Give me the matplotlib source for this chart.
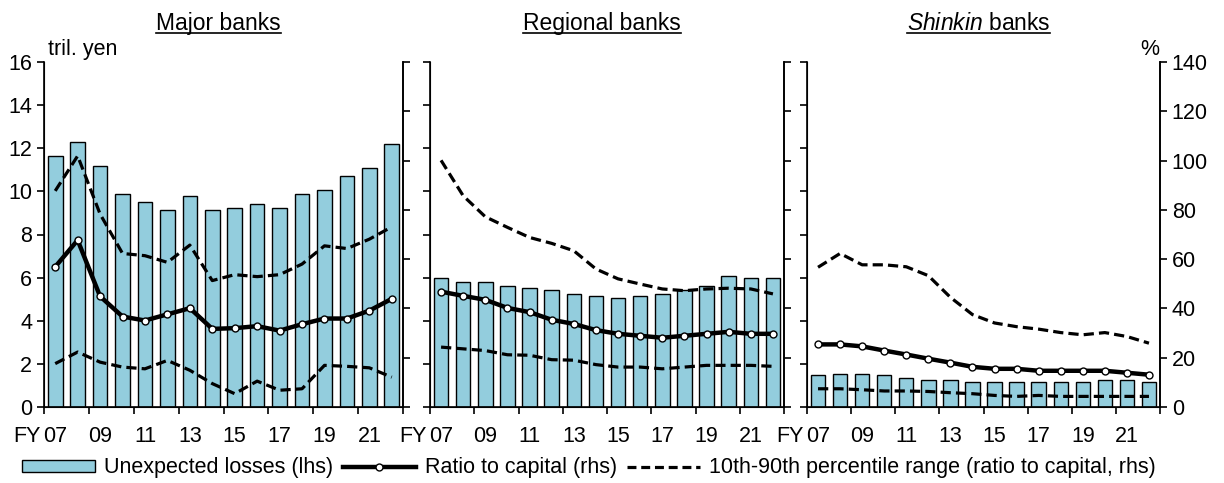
import matplotlib.pyplot as plt
import numpy as np
from matplotlib.lines import Line2D
from matplotlib.patches import Patch

plt.rcParams["font.family"] = ["Liberation Sans", "DejaVu Sans"]
plt.rcParams["mathtext.fontset"] = "custom"
plt.rcParams["mathtext.rm"] = "Liberation Sans"
plt.rcParams["mathtext.it"] = "Liberation Sans:italic"

years = np.arange(7, 23)
year_ticks = [7, 9, 11, 13, 15, 17, 19, 21]
year_labels = ["07", "09", "11", "13", "15", "17", "19", "21"]
panel_titles = ["Major banks", "Regional banks", r"$\it{Shinkin}$ banks"]

# unexpected losses (tril. yen, lhs)
major_losses = [11.63, 12.3, 11.17, 9.86, 9.49, 9.12, 9.78, 9.12, 9.23, 9.41, 9.23, 9.86, 10.05, 10.71, 11.08, 12.19]
regional_losses = [5.98, 5.81, 5.81, 5.63, 5.52, 5.44, 5.24, 5.15, 5.07, 5.15, 5.24, 5.44, 5.63, 6.08, 5.98, 5.98]
shinkin_losses = [1.47, 1.54, 1.54, 1.47, 1.34, 1.27, 1.27, 1.17, 1.17, 1.17, 1.17, 1.17, 1.17, 1.27, 1.27, 1.17]

# ratio to capital (%, rhs)
major_ratio = [56.9, 67.7, 44.9, 36.7, 35.1, 37.6, 40.1, 31.7, 32.0, 32.8, 31.0, 33.6, 35.9, 35.9, 39.1, 43.9]
regional_ratio = [46.8, 45.1, 43.5, 40.2, 38.5, 35.4, 33.7, 31.2, 29.7, 28.9, 28.1, 28.9, 29.7, 30.5, 29.7, 29.7]
shinkin_ratio = [25.4, 25.4, 24.6, 22.9, 21.3, 19.6, 18.0, 16.3, 15.5, 15.5, 14.7, 14.7, 14.7, 14.7, 13.9, 13.1]

# 10th / 90th percentile of ratio to capital (%, rhs)
major_p90 = [87.7, 101.9, 78.3, 62.3, 61.4, 58.7, 65.7, 51.3, 53.7, 52.9, 53.7, 58.0, 65.4, 64.3, 68.1, 73.1]
major_p10 = [17.6, 22.3, 18.2, 16.2, 15.5, 18.9, 14.9, 9.5, 5.4, 10.5, 6.8, 7.4, 16.9, 16.5, 15.9, 12.1]
regional_p90 = [100.1, 85.7, 77.2, 72.9, 68.8, 66.4, 63.4, 56.0, 52.0, 49.9, 47.9, 47.2, 47.9, 48.2, 47.9, 45.9]
regional_p10 = [24.3, 23.6, 22.9, 21.2, 21.0, 19.2, 19.0, 17.2, 16.2, 16.2, 15.5, 16.2, 16.9, 16.9, 16.9, 16.5]
shinkin_p90 = [56.7, 62.3, 57.7, 57.7, 56.9, 53.3, 44.5, 37.5, 34.1, 32.6, 31.6, 30.2, 29.3, 30.2, 28.6, 25.9]
shinkin_p10 = [7.4, 7.4, 7.0, 6.5, 6.5, 6.3, 5.8, 5.4, 4.7, 4.3, 4.7, 4.3, 4.3, 4.3, 4.3, 4.3]

losses = [major_losses, regional_losses, shinkin_losses]
ratios = [major_ratio, regional_ratio, shinkin_ratio]
p90s = [major_p90, regional_p90, shinkin_p90]
p10s = [major_p10, regional_p10, shinkin_p10]

bar_color = "#93CDDD"
fs = 15.5

fig = plt.figure(figsize=(12.24, 4.83), dpi=100)
W, H = 1224, 483
lefts = [44, 430, 807]
widths = [359, 354, 353]
bottom_px, top_px = 407, 62
ax_h = bottom_px - top_px

titles = []
for i in range(3):
    ax = fig.add_axes([lefts[i] / W, (H - bottom_px) / H, widths[i] / W, ax_h / H])
    ax.bar(years, losses[i], width=0.65, color=bar_color, edgecolor="black", linewidth=1.0, zorder=2)
    ax.set_xlim(6.5, 22.5)
    ax.set_ylim(0, 16)
    ax.set_yticks(np.arange(0, 17, 2))
    ax.set_xticks(np.arange(6.5, 23, 2))
    ax.set_xticklabels([])
    ax.set_xticks(year_ticks, minor=True)
    ax.set_xticklabels(year_labels, minor=True, fontsize=fs)
    ax.tick_params(axis="x", which="minor", length=0, pad=14)
    ax.tick_params(axis="x", which="major", length=5, width=1.2, direction="out")
    ax.tick_params(axis="y", length=5, width=1.2, direction="out", labelsize=fs)
    if i > 0:
        ax.set_yticklabels([])
    ax.spines["top"].set_visible(False)
    for s in ["left", "bottom", "right"]:
        ax.spines[s].set_linewidth(1.2)

    ax2 = ax.twinx()
    ax2.set_ylim(0, 140)
    ax2.set_yticks(np.arange(0, 141, 20))
    ax2.tick_params(axis="y", length=5, width=1.2, direction="out", labelsize=fs)
    if i < 2:
        ax2.set_yticklabels([])
    ax2.spines["top"].set_visible(False)
    ax2.spines["right"].set_linewidth(1.2)
    ax2.plot(years, p90s[i], color="black", lw=2.3, dashes=(3.2, 1.6))
    ax2.plot(years, p10s[i], color="black", lw=2.3, dashes=(3.2, 1.6))
    ax2.plot(years, ratios[i], color="black", lw=3.2, marker="o", markersize=5,
             markerfacecolor="white", markeredgecolor="black", markeredgewidth=1.0)

    ax.text(6.35, -19.4 / ax_h, "FY", transform=ax.get_xaxis_transform(),
            ha="right", va="top", fontsize=fs)

    cx = (lefts[i] + widths[i] / 2 - 5) / W
    t = fig.text(cx, 1 - 30 / H, panel_titles[i], ha="center", va="baseline", fontsize=16.5)
    titles.append(t)

    if i == 0:
        ax.text(0.01, 1.005, "tril. yen", transform=ax.transAxes, ha="left", va="bottom", fontsize=fs)
    if i == 2:
        ax2.text(0.998, 1.005, "%", transform=ax2.transAxes, ha="right", va="bottom", fontsize=fs)

# underline the panel titles
fig.canvas.draw()
renderer = fig.canvas.get_renderer()
for t in titles:
    bb = t.get_window_extent(renderer)
    y = (1 - 33 / H)
    fig.add_artist(Line2D([bb.x0 / W, bb.x1 / W], [y, y], color="black", lw=1.2))

handles = [
    Patch(facecolor=bar_color, edgecolor="black", linewidth=1.0),
    Line2D([0, 0.5, 1], [0, 0, 0], color="black", lw=3.2, marker="o", markersize=5,
           markerfacecolor="white", markeredgecolor="black", markevery=[1]),
    Line2D([], [], color="black", lw=2.3, dashes=(2.8, 1.5)),
]
labels = ["Unexpected losses (lhs)", "Ratio to capital (rhs)",
          "10th-90th percentile range (ratio to capital, rhs)"]
fig.legend(handles, labels, loc="center", bbox_to_anchor=(0.481, 1 - 468 / H), ncol=3,
           frameon=False, fontsize=fs, handlelength=3.4, handleheight=0.5,
           handletextpad=0.42, columnspacing=0.45, borderpad=0.1)

fig.savefig("out.png", dpi=100)
